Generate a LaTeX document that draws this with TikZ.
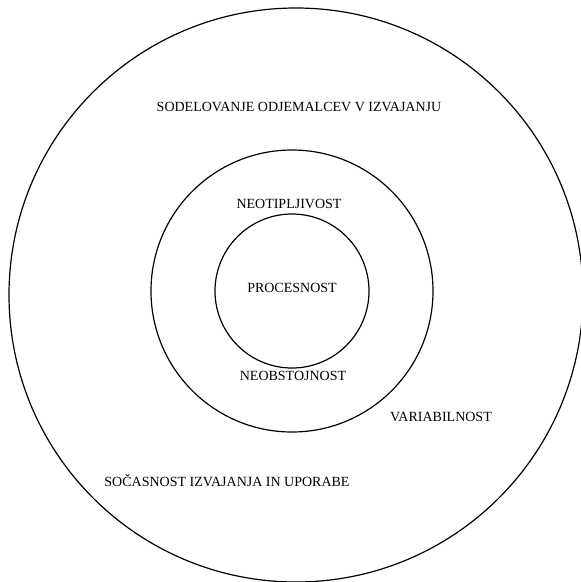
\documentclass[tikz,border=0pt]{standalone}
\usepackage{fontspec}
\setmainfont{Liberation Serif}
\usepackage{tikz}
\usetikzlibrary{positioning}

\begin{document}
\begin{tikzpicture}[
    x=1pt, y=-1pt,
    ring/.style={circle, draw, line width=1.2pt, inner sep=0pt},
    txt/.style={font=\fontsize{14}{16}\selectfont, inner sep=0pt},
]
\useasboundingbox (0,0) rectangle (581,582);
\node[ring, minimum size=574pt] (outer) at (296,295) {};
\node[ring, minimum size=282pt] (middle) at (292,291) {};
\node[ring, minimum size=154pt] (inner) at (292,291) {};
\node[txt] (sodel) at (299,107) {SODELOVANJE ODJEMALCEV V IZVAJANJU};
\node[txt] (neotip) at (289,204) {NEOTIPLJIVOST};
\node[txt] (proc) at (292,288) {PROCESNOST};
\node[txt] (neobst) at (293,376) {NEOBSTOJNOST};
\node[txt] (var) at (441,417) {VARIABILNOST};
\node[txt] (socas) at (227,481) {SOČASNOST IZVAJANJA IN UPORABE};
\end{tikzpicture}
\end{document}
